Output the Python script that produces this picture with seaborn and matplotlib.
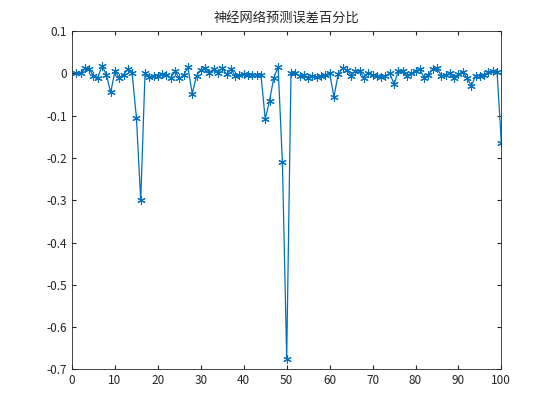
import seaborn as sns
import matplotlib.pyplot as plt
import numpy as np

sample_idx = list(range(1, 101))
error_pct = [
    0, 0, 0.012, 0.01, -0.005, -0.01, 0.018, -0.003, -0.045, 0.005,
    -0.01, -0.003, 0.01, 0.0, -0.105, -0.3, 0, -0.008, -0.005, -0.005,
    -0.002, -0.003, -0.01, 0.005, -0.012, -0.004, 0.014, -0.048, -0.005, 0.008,
    0.012, 0.002, 0.01, 0.002, 0.013, -0.002, 0.01, -0.005, -0.003, -0.002,
    -0.003, -0.003, -0.004, -0.003, -0.108, -0.065, -0.01, 0.016, -0.21, -0.675,
    0, 0.0, -0.005, -0.003, -0.01, -0.005, -0.008, -0.005, -0.003, 0,
    -0.055, -0.002, 0.012, 0.008, -0.005, 0.006, 0.005, -0.01, 0.002, -0.003,
    -0.005, -0.008, -0.005, 0, -0.025, 0.005, 0.005, -0.005, 0.0, 0.005,
    0.01, -0.01, -0.003, 0.01, 0.012, -0.005, -0.003, 0.0, -0.01, -0.002,
    0.003, -0.01, -0.03, -0.005, -0.005, -0.003, 0.003, 0.005, 0.003, -0.165,
]

sns.set_style('white')
plt.rcParams['font.family'] = ['Noto Sans CJK SC', 'DejaVu Sans']

fig, ax = plt.subplots(figsize=(5.54, 4.15), dpi=100)
fig.subplots_adjust(left=0.13, right=0.905, bottom=0.11, top=0.925)
sns.lineplot(x=sample_idx, y=error_pct, ax=ax, color='#0072BD', linewidth=0.9,
             marker=(6, 2, 0), markersize=6, markeredgecolor='#0072BD', markeredgewidth=0.8)

ax.set_xlim(0, 100)
ax.set_ylim(-0.7, 0.1)
ax.set_xticks(np.arange(0, 101, 10))
ax.set_yticks(np.round(np.arange(-0.7, 0.11, 0.1), 1))
ax.set_yticklabels(['-0.7', '-0.6', '-0.5', '-0.4', '-0.3', '-0.2', '-0.1', '0', '0.1'])
ax.tick_params(labelsize=8.5, direction='in', length=3, top=True, right=True,
               bottom=True, left=True)
for s in ax.spines.values():
    s.set_color('#262626')
    s.set_linewidth(0.6)
ax.set_title('神经网络预测误差百分比', fontsize=9.5)

plt.savefig('out.png')
